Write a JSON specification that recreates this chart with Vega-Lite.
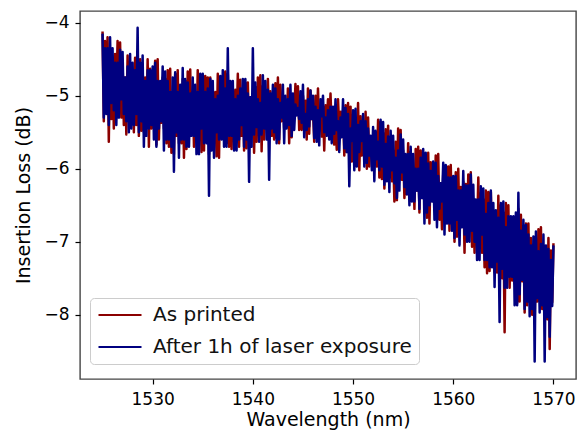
{
"$schema": "https://vega.github.io/schema/vega-lite/v6.json",
"width": 496, "height": 368,
"autosize": {"type": "none"},
"padding": {"left": 80, "top": 11, "right": 10, "bottom": 52},
"background": "white",
"config": {
 "font": "DejaVu Sans",
 "view": {"stroke": "#444", "strokeWidth": 1.4},
 "axis": {"grid": false, "domain": false, "tickColor": "#000", "tickSize": 5, "tickWidth": 1.2, "labelFontSize": 17, "labelColor": "#000", "labelPadding": 6, "titleFontSize": 19, "titleFontWeight": "normal", "titleColor": "#000"}
},
"data": {"values": [
{"w":1525.000,"p":-4.12,"b":-4.15},{"w":1525.125,"p":-5.35,"b":-5.30},{"w":1525.250,"p":-4.25,"b":-4.35},{"w":1525.375,"p":-5.15,"b":-5.25},{"w":1525.500,"p":-4.20,"b":-4.35},{"w":1525.625,"p":-5.63,"b":-5.40},{"w":1525.750,"p":-4.45,"b":-4.20},{"w":1525.875,"p":-5.32,"b":-5.10},
{"w":1526.000,"p":-4.55,"b":-4.35},{"w":1526.125,"p":-5.45,"b":-5.20},{"w":1526.250,"p":-4.43,"b":-4.55},{"w":1526.375,"p":-5.07,"b":-5.40},{"w":1526.500,"p":-4.25,"b":-4.55},{"w":1526.625,"p":-5.15,"b":-5.30},{"w":1526.750,"p":-4.27,"b":-4.37},{"w":1526.875,"p":-5.30,"b":-5.05},
{"w":1527.000,"p":-4.55,"b":-4.40},{"w":1527.125,"p":-5.40,"b":-5.25},{"w":1527.250,"p":-4.75,"b":-4.75},{"w":1527.375,"p":-5.53,"b":-5.35},{"w":1527.500,"p":-4.45,"b":-4.60},{"w":1527.625,"p":-5.20,"b":-5.50},{"w":1527.750,"p":-4.57,"b":-4.43},{"w":1527.875,"p":-5.25,"b":-5.45},
{"w":1528.000,"p":-4.75,"b":-4.55},{"w":1528.125,"p":-5.50,"b":-5.40},{"w":1528.250,"p":-4.48,"b":-4.65},{"w":1528.375,"p":-5.40,"b":-5.25},{"w":1528.500,"p":-4.45,"b":-4.07},{"w":1528.625,"p":-5.55,"b":-5.50},{"w":1528.750,"p":-4.50,"b":-4.55},{"w":1528.875,"p":-5.48,"b":-5.35},
{"w":1529.000,"p":-4.60,"b":-4.45},{"w":1529.125,"p":-5.50,"b":-5.70},{"w":1529.250,"p":-4.75,"b":-4.80},{"w":1529.375,"p":-5.35,"b":-5.55},{"w":1529.500,"p":-4.50,"b":-4.65},{"w":1529.625,"p":-5.70,"b":-5.45},{"w":1529.750,"p":-4.63,"b":-4.65},{"w":1529.875,"p":-5.45,"b":-5.40},
{"w":1530.000,"p":-4.80,"b":-4.60},{"w":1530.125,"p":-5.45,"b":-5.60},{"w":1530.250,"p":-4.52,"b":-4.55},{"w":1530.375,"p":-5.67,"b":-5.70},{"w":1530.500,"p":-4.50,"b":-4.80},{"w":1530.625,"p":-5.60,"b":-5.45},{"w":1530.750,"p":-4.90,"b":-4.80},{"w":1530.875,"p":-5.37,"b":-5.35},
{"w":1531.000,"p":-4.75,"b":-4.60},{"w":1531.125,"p":-5.45,"b":-5.75},{"w":1531.250,"p":-4.77,"b":-4.67},{"w":1531.375,"p":-5.65,"b":-5.60},{"w":1531.500,"p":-4.65,"b":-4.80},{"w":1531.625,"p":-5.70,"b":-5.60},{"w":1531.750,"p":-4.63,"b":-4.95},{"w":1531.875,"p":-5.78,"b":-5.70},
{"w":1532.000,"p":-4.95,"b":-4.75},{"w":1532.125,"p":-5.80,"b":-6.04},{"w":1532.250,"p":-4.70,"b":-4.68},{"w":1532.375,"p":-5.55,"b":-5.50},{"w":1532.500,"p":-4.65,"b":-4.95},{"w":1532.625,"p":-5.65,"b":-5.85},{"w":1532.750,"p":-4.90,"b":-4.85},{"w":1532.875,"p":-5.65,"b":-5.60},
{"w":1533.000,"p":-4.77,"b":-4.62},{"w":1533.125,"p":-5.85,"b":-5.60},{"w":1533.250,"p":-4.80,"b":-4.77},{"w":1533.375,"p":-5.73,"b":-5.70},{"w":1533.500,"p":-4.67,"b":-4.82},{"w":1533.625,"p":-5.55,"b":-5.70},{"w":1533.750,"p":-4.64,"b":-4.97},{"w":1533.875,"p":-5.50,"b":-5.55},
{"w":1534.000,"p":-4.95,"b":-4.75},{"w":1534.125,"p":-5.70,"b":-5.55},{"w":1534.250,"p":-5.05,"b":-4.85},{"w":1534.375,"p":-5.60,"b":-5.80},{"w":1534.500,"p":-4.65,"b":-4.95},{"w":1534.625,"p":-5.50,"b":-5.80},{"w":1534.750,"p":-4.87,"b":-4.70},{"w":1534.875,"p":-5.77,"b":-5.45},
{"w":1535.000,"p":-4.85,"b":-4.70},{"w":1535.125,"p":-5.75,"b":-5.65},{"w":1535.250,"p":-4.73,"b":-4.95},{"w":1535.375,"p":-5.47,"b":-5.65},{"w":1535.500,"p":-4.75,"b":-4.90},{"w":1535.625,"p":-5.80,"b":-6.37},{"w":1535.750,"p":-4.75,"b":-4.77},{"w":1535.875,"p":-5.70,"b":-5.75},
{"w":1536.000,"p":-5.00,"b":-4.80},{"w":1536.125,"p":-5.65,"b":-5.85},{"w":1536.250,"p":-4.95,"b":-5.05},{"w":1536.375,"p":-5.83,"b":-5.50},{"w":1536.500,"p":-4.70,"b":-5.00},{"w":1536.625,"p":-5.85,"b":-5.60},{"w":1536.750,"p":-4.83,"b":-4.73},{"w":1536.875,"p":-5.55,"b":-5.60},
{"w":1537.000,"p":-4.80,"b":-4.65},{"w":1537.125,"p":-5.55,"b":-5.70},{"w":1537.250,"p":-4.67,"b":-4.90},{"w":1537.375,"p":-5.65,"b":-5.70},{"w":1537.500,"p":-4.70,"b":-4.35},{"w":1537.625,"p":-5.70,"b":-5.55},{"w":1537.750,"p":-5.05,"b":-4.80},{"w":1537.875,"p":-5.73,"b":-5.55},
{"w":1538.000,"p":-5.00,"b":-4.80},{"w":1538.125,"p":-5.45,"b":-5.75},{"w":1538.250,"p":-4.92,"b":-5.05},{"w":1538.375,"p":-5.45,"b":-5.75},{"w":1538.500,"p":-4.70,"b":-5.00},{"w":1538.625,"p":-5.70,"b":-5.60},{"w":1538.750,"p":-4.78,"b":-4.90},{"w":1538.875,"p":-5.55,"b":-5.40},
{"w":1539.000,"p":-4.92,"b":-4.77},{"w":1539.125,"p":-5.75,"b":-5.70},{"w":1539.250,"p":-4.82,"b":-4.77},{"w":1539.375,"p":-5.72,"b":-5.60},{"w":1539.500,"p":-4.82,"b":-4.97},{"w":1539.625,"p":-5.60,"b":-6.18},{"w":1539.750,"p":-5.02,"b":-5.02},{"w":1539.875,"p":-5.42,"b":-5.70},
{"w":1540.000,"p":-5.05,"b":-4.35},{"w":1540.125,"p":-5.78,"b":-5.53},{"w":1540.250,"p":-4.88,"b":-4.82},{"w":1540.375,"p":-5.63,"b":-5.43},{"w":1540.500,"p":-4.75,"b":-5.05},{"w":1540.625,"p":-5.48,"b":-5.63},{"w":1540.750,"p":-4.72,"b":-5.10},{"w":1540.875,"p":-5.76,"b":-5.53},
{"w":1541.000,"p":-4.87,"b":-4.72},{"w":1541.125,"p":-5.60,"b":-5.45},{"w":1541.250,"p":-5.12,"b":-4.80},{"w":1541.375,"p":-5.45,"b":-5.60},{"w":1541.500,"p":-4.77,"b":-4.92},{"w":1541.625,"p":-5.40,"b":-6.15},{"w":1541.750,"p":-4.94,"b":-4.97},{"w":1541.875,"p":-5.55,"b":-5.45},
{"w":1542.000,"p":-5.05,"b":-4.85},{"w":1542.125,"p":-5.60,"b":-5.50},{"w":1542.250,"p":-4.83,"b":-4.90},{"w":1542.375,"p":-5.58,"b":-5.65},{"w":1542.500,"p":-4.75,"b":-5.05},{"w":1542.625,"p":-5.65,"b":-5.60},{"w":1542.750,"p":-4.85,"b":-5.10},{"w":1542.875,"p":-5.35,"b":-5.30},
{"w":1543.000,"p":-5.00,"b":-4.85},{"w":1543.125,"p":-5.45,"b":-5.65},{"w":1543.250,"p":-5.10,"b":-5.00},{"w":1543.375,"p":-5.40,"b":-5.45},{"w":1543.500,"p":-4.90,"b":-5.05},{"w":1543.625,"p":-5.65,"b":-5.40},{"w":1543.750,"p":-4.98,"b":-4.85},{"w":1543.875,"p":-5.57,"b":-5.55},
{"w":1544.000,"p":-5.17,"b":-4.97},{"w":1544.125,"p":-5.32,"b":-5.47},{"w":1544.250,"p":-4.84,"b":-5.12},{"w":1544.375,"p":-5.24,"b":-5.27},{"w":1544.500,"p":-4.87,"b":-5.17},{"w":1544.625,"p":-5.47,"b":-5.32},{"w":1544.750,"p":-5.22,"b":-4.94},{"w":1544.875,"p":-5.47,"b":-5.37},
{"w":1545.000,"p":-5.00,"b":-4.85},{"w":1545.125,"p":-5.27,"b":-5.57},{"w":1545.250,"p":-5.07,"b":-5.25},{"w":1545.375,"p":-5.60,"b":-5.47},{"w":1545.500,"p":-4.90,"b":-5.05},{"w":1545.625,"p":-5.52,"b":-5.42},{"w":1545.750,"p":-4.93,"b":-4.93},{"w":1545.875,"p":-5.32,"b":-5.32},
{"w":1546.000,"p":-5.20,"b":-5.00},{"w":1546.125,"p":-5.63,"b":-5.58},{"w":1546.250,"p":-5.00,"b":-5.15},{"w":1546.375,"p":-5.48,"b":-5.63},{"w":1546.500,"p":-4.90,"b":-5.20},{"w":1546.625,"p":-5.48,"b":-5.68},{"w":1546.750,"p":-5.20,"b":-5.05},{"w":1546.875,"p":-5.56,"b":-5.28},
{"w":1547.000,"p":-5.15,"b":-5.00},{"w":1547.125,"p":-5.75,"b":-5.50},{"w":1547.250,"p":-5.13,"b":-5.30},{"w":1547.375,"p":-5.40,"b":-5.55},{"w":1547.500,"p":-5.05,"b":-5.20},{"w":1547.625,"p":-5.45,"b":-5.60},{"w":1547.750,"p":-4.97,"b":-5.15},{"w":1547.875,"p":-5.50,"b":-5.65},
{"w":1548.000,"p":-5.35,"b":-5.15},{"w":1548.125,"p":-5.67,"b":-5.52},{"w":1548.250,"p":-5.40,"b":-5.05},{"w":1548.375,"p":-5.74,"b":-5.47},{"w":1548.500,"p":-5.05,"b":-5.35},{"w":1548.625,"p":-5.47,"b":-5.77},{"w":1548.750,"p":-5.22,"b":-5.30},{"w":1548.875,"p":-5.44,"b":-5.57},
{"w":1549.000,"p":-5.20,"b":-5.05},{"w":1549.125,"p":-5.82,"b":-5.72},{"w":1549.250,"p":-5.13,"b":-5.17},{"w":1549.375,"p":-5.77,"b":-5.77},{"w":1549.500,"p":-5.10,"b":-5.25},{"w":1549.625,"p":-5.87,"b":-6.24},{"w":1549.750,"p":-5.15,"b":-5.45},{"w":1549.875,"p":-5.90,"b":-5.62},
{"w":1550.000,"p":-5.40,"b":-5.20},{"w":1550.125,"p":-5.82,"b":-6.02},{"w":1550.250,"p":-5.40,"b":-5.18},{"w":1550.375,"p":-5.72,"b":-5.97},{"w":1550.500,"p":-5.10,"b":-5.40},{"w":1550.625,"p":-6.02,"b":-5.77},{"w":1550.750,"p":-5.28,"b":-5.35},{"w":1550.875,"p":-5.82,"b":-5.62},
{"w":1551.000,"p":-5.40,"b":-5.25},{"w":1551.125,"p":-5.82,"b":-5.97},{"w":1551.250,"p":-5.22,"b":-5.35},{"w":1551.375,"p":-6.00,"b":-5.92},{"w":1551.500,"p":-5.30,"b":-5.45},{"w":1551.625,"p":-5.97,"b":-5.82},{"w":1551.750,"p":-5.60,"b":-5.55},{"w":1551.875,"p":-5.77,"b":-6.02},
{"w":1552.000,"p":-5.63,"b":-5.43},{"w":1552.125,"p":-5.87,"b":-6.17},{"w":1552.250,"p":-5.50,"b":-5.48},{"w":1552.375,"p":-5.97,"b":-5.87},{"w":1552.500,"p":-5.33,"b":-5.63},{"w":1552.625,"p":-6.12,"b":-6.02},{"w":1552.750,"p":-5.36,"b":-5.33},{"w":1552.875,"p":-6.14,"b":-5.97},
{"w":1553.000,"p":-5.51,"b":-5.36},{"w":1553.125,"p":-6.27,"b":-6.22},{"w":1553.250,"p":-5.46,"b":-5.66},{"w":1553.375,"p":-5.94,"b":-6.17},{"w":1553.500,"p":-5.41,"b":-5.56},{"w":1553.625,"p":-6.12,"b":-6.32},{"w":1553.750,"p":-5.66,"b":-5.48},{"w":1553.875,"p":-6.17,"b":-6.02},
{"w":1554.000,"p":-5.75,"b":-5.55},{"w":1554.125,"p":-6.45,"b":-6.20},{"w":1554.250,"p":-5.63,"b":-5.85},{"w":1554.375,"p":-6.43,"b":-6.40},{"w":1554.500,"p":-5.45,"b":-5.75},{"w":1554.625,"p":-6.15,"b":-6.30},{"w":1554.750,"p":-5.47,"b":-5.53},{"w":1554.875,"p":-6.15,"b":-6.05},
{"w":1555.000,"p":-5.75,"b":-5.60},{"w":1555.125,"p":-6.40,"b":-6.25},{"w":1555.250,"p":-5.95,"b":-5.80},{"w":1555.375,"p":-6.35,"b":-6.35},{"w":1555.500,"p":-5.65,"b":-5.80},{"w":1555.625,"p":-6.20,"b":-6.50},{"w":1555.750,"p":-5.77,"b":-5.70},{"w":1555.875,"p":-6.43,"b":-6.45},
{"w":1556.000,"p":-6.00,"b":-5.80},{"w":1556.125,"p":-6.55,"b":-6.45},{"w":1556.250,"p":-5.73,"b":-6.00},{"w":1556.375,"p":-6.30,"b":-6.30},{"w":1556.500,"p":-5.70,"b":-6.00},{"w":1556.625,"p":-6.60,"b":-6.55},{"w":1556.750,"p":-5.75,"b":-5.85},{"w":1556.875,"p":-6.40,"b":-6.40},
{"w":1557.000,"p":-5.88,"b":-5.73},{"w":1557.125,"p":-6.55,"b":-6.75},{"w":1557.250,"p":-6.03,"b":-5.78},{"w":1557.375,"p":-6.67,"b":-6.60},{"w":1557.500,"p":-5.78,"b":-5.93},{"w":1557.625,"p":-6.75,"b":-6.50},{"w":1557.750,"p":-5.91,"b":-6.03},{"w":1557.875,"p":-6.37,"b":-6.45},
{"w":1558.000,"p":-6.10,"b":-5.90},{"w":1558.125,"p":-6.55,"b":-6.70},{"w":1558.250,"p":-5.82,"b":-5.92},{"w":1558.375,"p":-6.70,"b":-6.80},{"w":1558.500,"p":-5.80,"b":-6.10},{"w":1558.625,"p":-6.70,"b":-6.55},{"w":1558.750,"p":-6.20,"b":-6.20},{"w":1558.875,"p":-6.83,"b":-6.45},
{"w":1559.000,"p":-6.07,"b":-5.92},{"w":1559.125,"p":-6.60,"b":-6.90},{"w":1559.250,"p":-6.09,"b":-5.95},{"w":1559.375,"p":-6.65,"b":-6.75},{"w":1559.500,"p":-5.97,"b":-6.12},{"w":1559.625,"p":-6.85,"b":-6.75},{"w":1559.750,"p":-5.95,"b":-6.12},{"w":1559.875,"p":-6.75,"b":-6.85},
{"w":1560.000,"p":-6.30,"b":-6.10},{"w":1560.125,"p":-7.00,"b":-6.95},{"w":1560.250,"p":-6.05,"b":-6.10},{"w":1560.375,"p":-6.93,"b":-6.70},{"w":1560.500,"p":-6.00,"b":-6.30},{"w":1560.625,"p":-6.85,"b":-7.05},{"w":1560.750,"p":-6.25,"b":-6.30},{"w":1560.875,"p":-6.70,"b":-6.80},
{"w":1561.000,"p":-6.18,"b":-6.03},{"w":1561.125,"p":-7.15,"b":-6.90},{"w":1561.250,"p":-6.21,"b":-6.23},{"w":1561.375,"p":-6.90,"b":-7.00},{"w":1561.500,"p":-6.08,"b":-6.23},{"w":1561.625,"p":-6.85,"b":-7.00},{"w":1561.750,"p":-6.05,"b":-6.08},{"w":1561.875,"p":-7.07,"b":-6.85},
{"w":1562.000,"p":-6.42,"b":-6.22},{"w":1562.125,"p":-7.15,"b":-7.00},{"w":1562.250,"p":-6.52,"b":-6.42},{"w":1562.375,"p":-6.92,"b":-7.25},{"w":1562.500,"p":-6.12,"b":-6.42},{"w":1562.625,"p":-6.95,"b":-7.25},{"w":1562.750,"p":-6.34,"b":-6.24},{"w":1562.875,"p":-7.15,"b":-6.90},
{"w":1563.000,"p":-6.42,"b":-6.27},{"w":1563.125,"p":-7.35,"b":-7.25},{"w":1563.250,"p":-6.30,"b":-6.62},{"w":1563.375,"p":-7.43,"b":-7.25},{"w":1563.500,"p":-6.32,"b":-6.47},{"w":1563.625,"p":-7.40,"b":-7.35},{"w":1563.750,"p":-6.32,"b":-6.30},{"w":1563.875,"p":-7.15,"b":-7.35},
{"w":1564.000,"p":-6.67,"b":-6.47},{"w":1564.125,"p":-7.42,"b":-7.62},{"w":1564.250,"p":-6.62,"b":-6.57},{"w":1564.375,"p":-7.42,"b":-7.27},{"w":1564.500,"p":-6.37,"b":-6.67},{"w":1564.625,"p":-7.62,"b":-8.10},{"w":1564.750,"p":-6.50,"b":-6.47},{"w":1564.875,"p":-7.50,"b":-7.37},
{"w":1565.000,"p":-6.60,"b":-6.45},{"w":1565.125,"p":-8.24,"b":-7.63},{"w":1565.250,"p":-6.47,"b":-6.80},{"w":1565.375,"p":-7.43,"b":-7.63},{"w":1565.500,"p":-6.50,"b":-6.65},{"w":1565.625,"p":-7.63,"b":-7.48},{"w":1565.750,"p":-6.85,"b":-6.65},{"w":1565.875,"p":-7.53,"b":-7.48},
{"w":1566.000,"p":-6.85,"b":-6.65},{"w":1566.125,"p":-7.57,"b":-7.87},{"w":1566.250,"p":-6.77,"b":-6.60},{"w":1566.375,"p":-7.84,"b":-7.87},{"w":1566.500,"p":-6.55,"b":-6.33},{"w":1566.625,"p":-7.82,"b":-7.72},{"w":1566.750,"p":-6.63,"b":-6.85},{"w":1566.875,"p":-7.54,"b":-7.52},
{"w":1567.000,"p":-6.85,"b":-6.70},{"w":1567.125,"p":-7.97,"b":-7.92},{"w":1567.250,"p":-6.75,"b":-6.77},{"w":1567.375,"p":-7.87,"b":-7.82},{"w":1567.500,"p":-6.75,"b":-6.90},{"w":1567.625,"p":-7.82,"b":-8.02},{"w":1567.750,"p":-6.95,"b":-7.05},{"w":1567.875,"p":-8.00,"b":-7.92},
{"w":1568.000,"p":-7.13,"b":-6.93},{"w":1568.125,"p":-8.12,"b":-8.64},{"w":1568.250,"p":-6.96,"b":-6.86},{"w":1568.375,"p":-7.82,"b":-7.77},{"w":1568.500,"p":-6.83,"b":-7.13},{"w":1568.625,"p":-7.82,"b":-7.97},{"w":1568.750,"p":-6.80,"b":-7.03},{"w":1568.875,"p":-7.92,"b":-7.87},
{"w":1569.000,"p":-7.05,"b":-6.90},{"w":1569.125,"p":-8.03,"b":-8.64},{"w":1569.250,"p":-7.30,"b":-7.05},{"w":1569.375,"p":-8.06,"b":-8.03},{"w":1569.500,"p":-6.95,"b":-7.10},{"w":1569.625,"p":-8.47,"b":-8.30},{"w":1569.750,"p":-7.12,"b":-7.25},{"w":1569.875,"p":-7.83,"b":-7.88},
{"w":1570.000,"p":-7.02,"b":-7.05}
]},
"encoding": {
 "x": {"field": "w", "type": "quantitative", "title": "Wavelength (nm)",
  "scale": {"domain": [1522.75, 1572.25], "nice": false, "zero": false},
  "axis": {"values": [1530, 1540, 1550, 1560, 1570], "format": "d", "labelPadding": 7, "titlePadding": 3}}
},
"layer": [
 {"mark": {"type": "line", "strokeWidth": 2.5, "strokeJoin": "round", "clip": true},
  "encoding": {
   "y": {"field": "p", "type": "quantitative", "title": "Insertion Loss (dB)",
    "scale": {"domain": [-8.88, -3.84], "nice": false, "zero": false},
    "axis": {"values": [-8, -7, -6, -5, -4], "format": "d", "titlePadding": 10}},
   "color": {"datum": "As printed", "type": "nominal",
    "scale": {"domain": ["As printed", "After 1h of laser exposure"], "range": ["#8b0000", "#000080"]},
    "legend": {"title": null, "orient": "none", "legendX": 10, "legendY": 287, "padding": 7,
     "strokeColor": "#cccccc", "fillColor": "rgba(255,255,255,0.8)", "cornerRadius": 4,
     "symbolType": "stroke", "symbolSize": 1849, "symbolStrokeWidth": 2.2, "clipHeight": 20,
     "rowPadding": 12, "labelFontSize": 20, "labelColor": "#111", "labelOffset": 10, "labelLimit": 400}}
  }},
 {"mark": {"type": "line", "strokeWidth": 2.5, "strokeJoin": "round", "clip": true},
  "encoding": {
   "y": {"field": "b", "type": "quantitative"},
   "color": {"datum": "After 1h of laser exposure", "type": "nominal"}
  }}
]
}
